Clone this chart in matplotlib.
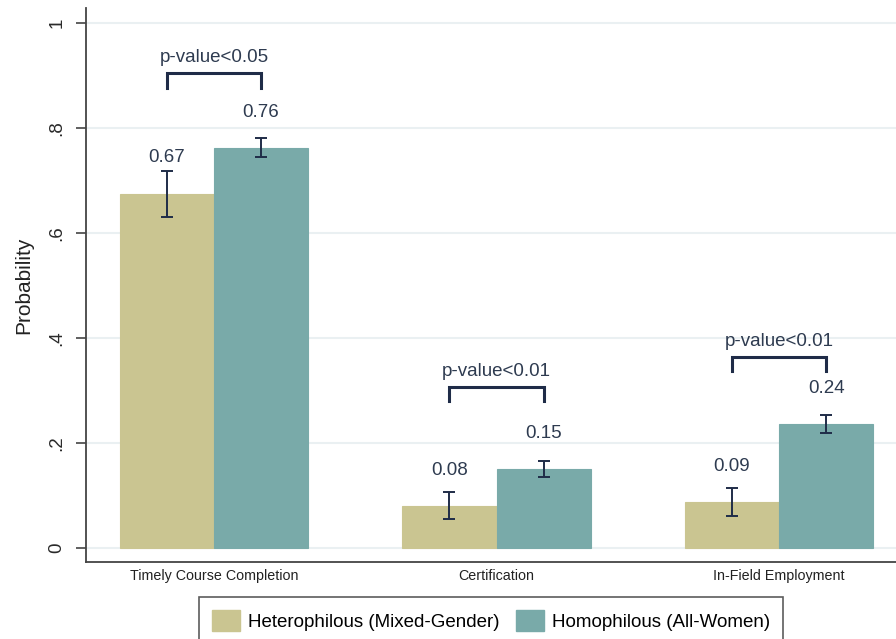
import numpy as np
import matplotlib
matplotlib.use('Agg')
import matplotlib.pyplot as plt
from matplotlib.patches import Patch

plt.rcParams['font.family'] = ['Liberation Sans', 'DejaVu Sans']

categories = ['Timely Course Completion', 'Certification', 'In-Field Employment']
series_names = ['Heterophilous (Mixed-Gender)', 'Homophilous (All-Women)']

hetero_prob = [0.675, 0.080, 0.087]
hetero_lo = [0.630, 0.055, 0.061]
hetero_hi = [0.718, 0.107, 0.114]
hetero_labels = ['0.67', '0.08', '0.09']

homo_prob = [0.762, 0.150, 0.236]
homo_lo = [0.745, 0.135, 0.219]
homo_hi = [0.781, 0.166, 0.253]
homo_labels = ['0.76', '0.15', '0.24']

pvalue_text = ['p-value<0.05', 'p-value<0.01', 'p-value<0.01']
bracket_y = [0.904, 0.307, 0.364]

yticks = [0, 0.2, 0.4, 0.6, 0.8, 1.0]
ytick_labels = ['0', '.2', '.4', '.6', '.8', '1']

hetero_color = '#CAC591'
homo_color = '#79AAA9'
ink = '#1F2C48'
label_color = '#2E3B50'

fig = plt.figure(figsize=(8.96, 6.39), dpi=100)
ax = fig.add_axes([86 / 896, 77 / 639, 1 - 86 / 896, 554 / 639])

x = np.arange(len(categories))
width = 0.333

for i, (vals, lo, hi, labels, color) in enumerate([
        (hetero_prob, hetero_lo, hetero_hi, hetero_labels, hetero_color),
        (homo_prob, homo_lo, homo_hi, homo_labels, homo_color)]):
    pos = x + (i - 0.5) * width
    ax.bar(pos, vals, width, color=color, edgecolor=color, linewidth=0.8, zorder=2)
    vals = np.array(vals)
    yerr = [vals - np.array(lo), np.array(hi) - vals]
    ax.errorbar(pos, vals, yerr=yerr, fmt='none', ecolor=ink, elinewidth=1.4,
                capsize=4.5, capthick=1.4, zorder=3)
    # value labels sit a fixed distance above the bar top
    for p, v, t in zip(pos, vals, labels):
        ax.annotate(t, (p, v), xytext=(0, 25.7), textcoords='offset points',
                    ha='center', va='center', fontsize=13.5, color=label_color)

# significance brackets
leg = 0.027
for xc, by, txt in zip(x, bracket_y, pvalue_text):
    x0, x1 = xc - width / 2, xc + width / 2
    ax.plot([x0, x0, x1, x1], [by - leg, by, by, by - leg], color=ink,
            linewidth=2.2, solid_joinstyle='miter', zorder=3)
    ax.text(xc, by + 0.03, txt, ha='center', va='center', fontsize=13.5,
            color=label_color)

ax.set_xlim(-0.453, 2.414)
ax.set_ylim(-0.0267, 1.0286)
ax.set_xticks(x)
ax.set_xticklabels(categories, fontsize=10.3, color='#222222')
ax.tick_params(axis='x', length=0, pad=5)
ax.set_yticks(yticks)
ax.set_yticklabels(ytick_labels, rotation=90, va='center', fontsize=13.5,
                   color='#2a2a2a')
ax.tick_params(axis='y', length=7, width=1.2, color='#444444', pad=8)
ax.set_ylabel('Probability', fontsize=15, color='#222222', labelpad=11)
ax.yaxis.grid(True, color='#EAF0F2', linewidth=1.5, zorder=0)
ax.set_axisbelow(True)
for s in ['top', 'right']:
    ax.spines[s].set_visible(False)
for s in ['left', 'bottom']:
    ax.spines[s].set_color('#444444')
    ax.spines[s].set_linewidth(1.3)

handles = [Patch(facecolor=hetero_color, edgecolor=hetero_color),
           Patch(facecolor=homo_color, edgecolor=homo_color)]
lg = fig.legend(handles, series_names, loc='upper left',
                bbox_to_anchor=(199 / 896, 1 - 597 / 639), ncol=2,
                fontsize=13.5, frameon=True, fancybox=False,
                handlelength=1.5, handleheight=1.35, handletextpad=0.4,
                columnspacing=0.9, borderpad=0.7, borderaxespad=0)
lg.get_frame().set_edgecolor('#333333')
lg.get_frame().set_linewidth(1.2)

fig.savefig('out.png', dpi=100)
